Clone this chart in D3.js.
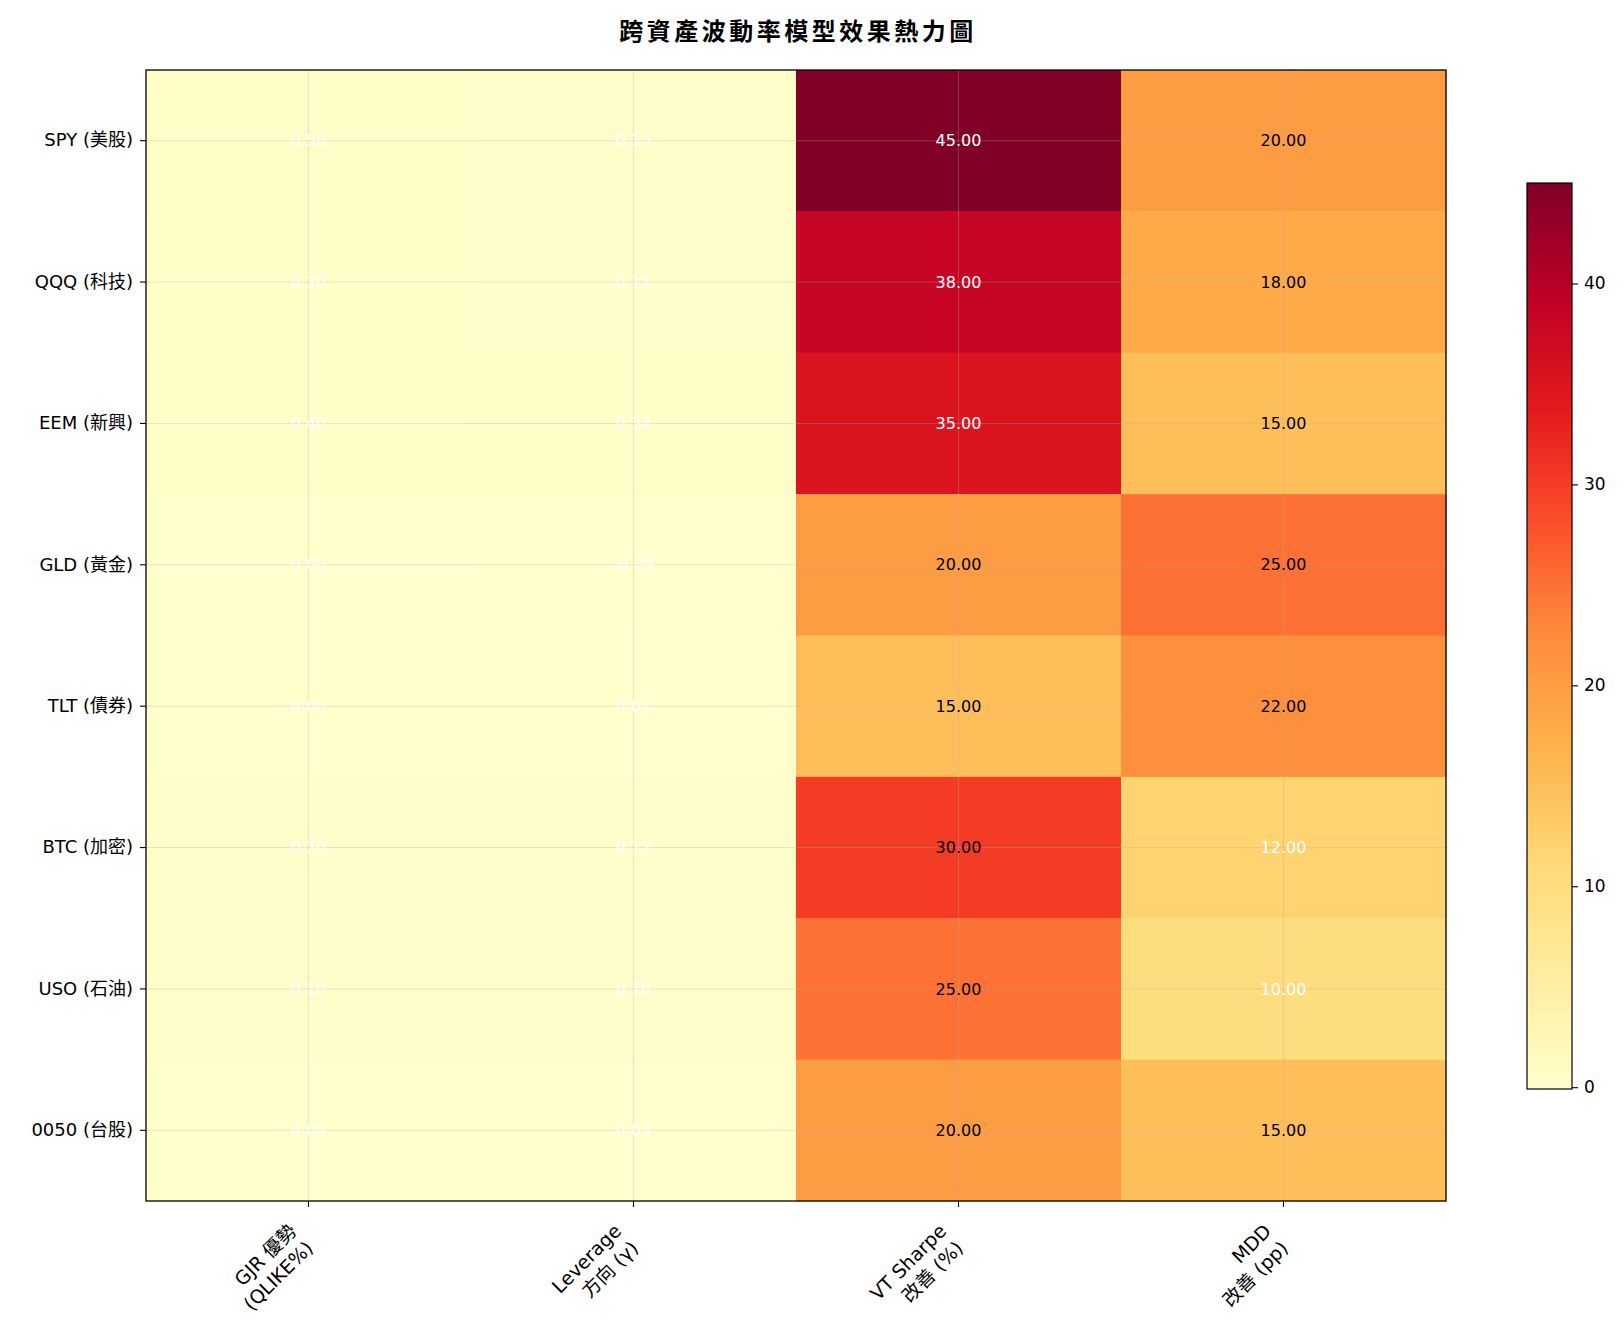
<!DOCTYPE html>
<meta charset="utf-8">
<style>
body {
  margin: 0;
  background: #ffffff;
}
text {
  font-family: "DejaVu Sans", "Noto Sans CJK TC", sans-serif;
}
</style>
<body>
<script src="https://d3js.org/d3.v7.min.js"></script>
<script>
// data
var assets = ["SPY (美股)", "QQQ (科技)", "EEM (新興)", "GLD (黃金)", "TLT (債券)", "BTC (加密)", "USO (石油)", "0050 (台股)"];
var metrics = [["GJR 優勢", "(QLIKE%)"], ["Leverage", "方向 (γ)"], ["VT Sharpe", "改善 (%)"], ["MDD", "改善 (pp)"]];
var gjrAdvantage = [0.50, 0.30, 0.40, 0.00, 0.00, 0.20, 0.10, 0.05];
var leverageGamma = [0.15, 0.11, 0.34, -0.09, 0.01, 0.12, 0.10, 0.03];
var vtSharpe = [45, 38, 35, 20, 15, 30, 25, 20];
var mddImprove = [20, 18, 15, 25, 22, 12, 10, 15];
var colorbarTicks = [0, 10, 20, 30, 40];

var columns = [gjrAdvantage, leverageGamma, vtSharpe, mddImprove];

var width = 1624,
    height = 1334;

var plot = {left: 146, right: 1446, top: 70, bottom: 1201};

var svg = d3.select("body").append("svg")
    .attr("width", width)
    .attr("height", height);

var cells = [];
columns.forEach(function(col, j) {
  col.forEach(function(v, i) {
    cells.push({row: i, col: j, value: v});
  });
});

var vmin = d3.min(cells, function(d) { return d.value; }),
    vmax = d3.max(cells, function(d) { return d.value; });

// matplotlib YlOrRd is a linear ramp through the brewer colours
var ylorrd = ["#ffffcc", "#ffeda0", "#fed976", "#feb24c", "#fd8d3c", "#fc4e2a", "#e31a1c", "#bd0026", "#800026"];
var color = d3.scaleLinear()
    .domain(d3.range(ylorrd.length).map(function(k) { return vmin + (vmax - vmin) * k / (ylorrd.length - 1); }))
    .range(ylorrd)
    .interpolate(d3.interpolateRgb)
    .clamp(true);

var x = d3.scaleBand()
    .domain(d3.range(metrics.length))
    .range([plot.left, plot.right]);

var y = d3.scaleBand()
    .domain(d3.range(assets.length))
    .range([plot.top, plot.bottom]);

var g = svg.append("g");

g.selectAll("rect.cell")
    .data(cells)
  .enter().append("rect")
    .attr("class", "cell")
    .attr("x", function(d) { return x(d.col); })
    .attr("y", function(d) { return y(d.row); })
    .attr("width", x.bandwidth() + 0.5)
    .attr("height", y.bandwidth() + 0.5)
    .attr("fill", function(d) { return color(d.value); });

// grid on top of the image
g.selectAll("line.vgrid")
    .data(x.domain())
  .enter().append("line")
    .attr("x1", function(d) { return x(d) + x.bandwidth() / 2; })
    .attr("x2", function(d) { return x(d) + x.bandwidth() / 2; })
    .attr("y1", plot.top)
    .attr("y2", plot.bottom)
    .attr("stroke", "#b0b0b0")
    .attr("stroke-opacity", 0.3)
    .attr("stroke-width", 1.1);

g.selectAll("line.hgrid")
    .data(y.domain())
  .enter().append("line")
    .attr("y1", function(d) { return y(d) + y.bandwidth() / 2; })
    .attr("y2", function(d) { return y(d) + y.bandwidth() / 2; })
    .attr("x1", plot.left)
    .attr("x2", plot.right)
    .attr("stroke", "#b0b0b0")
    .attr("stroke-opacity", 0.3)
    .attr("stroke-width", 1.1);

g.selectAll("text.val")
    .data(cells)
  .enter().append("text")
    .attr("x", function(d) { return x(d.col) + x.bandwidth() / 2; })
    .attr("y", function(d) { return y(d.row) + y.bandwidth() / 2; })
    .attr("dy", "0.35em")
    .attr("text-anchor", "middle")
    .style("font-size", "16px")
    .style("fill", function(d) {
      return (d.value > vmax * 0.7 || d.value < vmax * 0.3) ? "#ffffff" : "#000000";
    })
    .text(function(d) { return d.value.toFixed(2); });

// frame
g.append("rect")
    .attr("x", plot.left)
    .attr("y", plot.top)
    .attr("width", plot.right - plot.left)
    .attr("height", plot.bottom - plot.top)
    .attr("fill", "none")
    .attr("stroke", "#000")
    .attr("stroke-width", 1.3);

// y axis
var yAxis = d3.axisLeft(y)
    .tickSize(6)
    .tickPadding(7)
    .tickFormat(function(i) { return assets[i]; });

svg.append("g")
    .attr("transform", "translate(" + plot.left + ",0)")
    .call(yAxis)
    .call(function(a) {
      a.select(".domain").remove();
      a.selectAll(".tick line").attr("stroke", "#000").attr("stroke-width", 1.1);
      a.selectAll(".tick text").style("font-size", "18px").attr("fill", "#000");
    });

// x axis, two-line labels rotated 45 degrees
var xTicks = svg.append("g");
xTicks.selectAll("line")
    .data(x.domain())
  .enter().append("line")
    .attr("x1", function(d) { return x(d) + x.bandwidth() / 2; })
    .attr("x2", function(d) { return x(d) + x.bandwidth() / 2; })
    .attr("y1", plot.bottom)
    .attr("y2", plot.bottom + 6)
    .attr("stroke", "#000")
    .attr("stroke-width", 1.1);

var lineH = 24;
var xLabels = xTicks.selectAll("text")
    .data(x.domain())
  .enter().append("text")
    .attr("text-anchor", "end")
    .style("font-size", "19px")
    .attr("transform", function(d) {
      var tx = x(d) + x.bandwidth() / 2 - (lineH + 5) / Math.SQRT2;
      var ty = plot.bottom + 12 + 14 / Math.SQRT2;
      return "translate(" + tx + "," + ty + ") rotate(-45)";
    });

xLabels.selectAll("tspan")
    .data(function(d) { return metrics[d]; })
  .enter().append("tspan")
    .attr("x", 0)
    .attr("y", function(d, k) { return k * lineH; })
    .attr("dy", "0.7em")
    .text(function(d) { return d; });

// title
svg.append("text")
    .attr("x", (plot.left + plot.right) / 2 + 2)
    .attr("y", 40)
    .attr("text-anchor", "middle")
    .style("font-family", "\"Noto Sans CJK TC\", sans-serif")
    .style("font-size", "24px")
    .style("font-weight", "bold")
    .style("letter-spacing", "3.5px")
    .text("跨資產波動率模型效果熱力圖");

// colorbar
var cb = {left: 1527, width: 45, top: 183, bottom: 1089};
var cbScale = d3.scaleLinear()
    .domain([vmin, vmax])
    .range([cb.bottom, cb.top]);

var grad = svg.append("defs").append("linearGradient")
    .attr("id", "cbgrad")
    .attr("x1", 0).attr("x2", 0)
    .attr("y1", 1).attr("y2", 0);

grad.selectAll("stop")
    .data(ylorrd)
  .enter().append("stop")
    .attr("offset", function(d, k) { return k / (ylorrd.length - 1); })
    .attr("stop-color", function(d) { return d; });

svg.append("rect")
    .attr("x", cb.left)
    .attr("y", cb.top)
    .attr("width", cb.width)
    .attr("height", cb.bottom - cb.top)
    .attr("fill", "url(#cbgrad)")
    .attr("stroke", "#000")
    .attr("stroke-width", 1.2);

svg.append("g")
    .attr("transform", "translate(" + (cb.left + cb.width) + ",0)")
    .call(d3.axisRight(cbScale).tickValues(colorbarTicks).tickSize(6).tickPadding(6))
    .call(function(a) {
      a.select(".domain").remove();
      a.selectAll(".tick line").attr("stroke", "#000").attr("stroke-width", 1.1);
      a.selectAll(".tick text").style("font-size", "17px").attr("fill", "#000");
    });
</script>
</body>
</html>
